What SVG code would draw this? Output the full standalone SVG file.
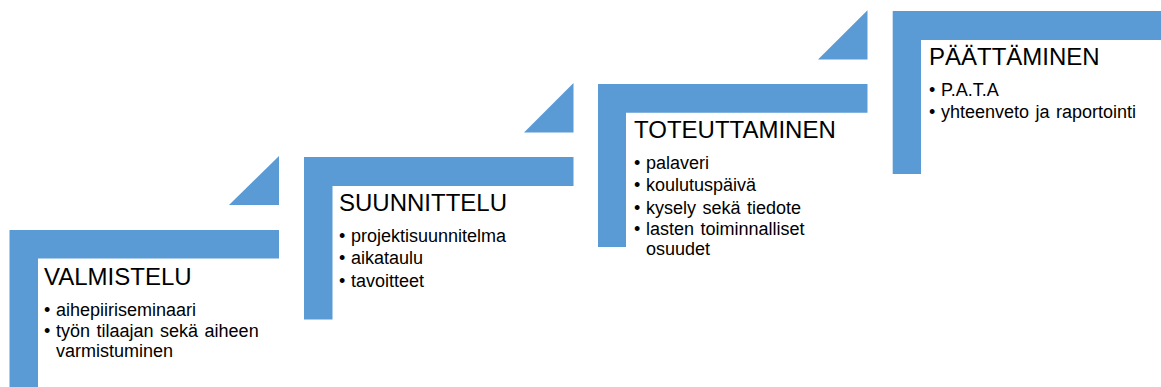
<svg xmlns="http://www.w3.org/2000/svg" width="1161" height="387" viewBox="0 0 1161 387">
<style>
.shape{fill:#5B9BD5}
.title{font-family:"Liberation Sans",Arial,sans-serif;font-size:24px;fill:#000}
.item{font-family:"Liberation Sans",Arial,sans-serif;font-size:18px;fill:#000}
</style>
<rect width="1161" height="387" fill="#fff"/>
<g id="connectors"></g>
<g id="step1">
<polygon class="shape" points="229,205 279,156 279,205"/>
<path class="shape" d="M9.5,230 H279 V258.5 H38 V393 H9.5 Z"/>
<text class="title" x="44" y="284.5">VALMISTELU</text>
<text class="item" x="44" y="315.5">•</text><text class="item" x="56" y="315.5">aihepiiriseminaari</text>
<text class="item" x="44" y="337">•</text><text class="item" x="56" y="337" word-spacing="1.5">työn tilaajan sekä aiheen</text>
<text class="item" x="56" y="357.4">varmistuminen</text>
</g>
<g id="step2">
<polygon class="shape" points="524,132.5 573.5,83 573.5,132.5"/>
<path class="shape" d="M304,157 H573.5 V186 H332.5 V319.5 H304 Z"/>
<text class="title" x="339" y="211">SUUNNITTELU</text>
<text class="item" x="339" y="241.7">•</text><text class="item" x="351" y="241.7">projektisuunnitelma</text>
<text class="item" x="339" y="264.3">•</text><text class="item" x="351" y="264.3">aikataulu</text>
<text class="item" x="339" y="286.9">•</text><text class="item" x="351" y="286.9">tavoitteet</text>
</g>
<g id="step3">
<polygon class="shape" points="818,59.5 867.5,10.3 867.5,59.5"/>
<path class="shape" d="M598,84 H867.5 V112.7 H626 V247 H598 Z"/>
<text class="title" x="634" y="138.3">TOTEUTTAMINEN</text>
<text class="item" x="634" y="168.5">•</text><text class="item" x="646" y="168.5">palaveri</text>
<text class="item" x="634" y="191">•</text><text class="item" x="646" y="191">koulutuspäivä</text>
<text class="item" x="634" y="213.5">•</text><text class="item" x="646" y="213.5" word-spacing="1.5">kysely sekä tiedote</text>
<text class="item" x="634" y="235">•</text><text class="item" x="646" y="235" word-spacing="1.5">lasten toiminnalliset</text>
<text class="item" x="646" y="255.4">osuudet</text>
</g>
<g id="step4">
<path class="shape" d="M892.7,11 H1161 V40 H921 V174 H892.7 Z"/>
<text class="title" x="929" y="64.5">PÄÄTTÄMINEN</text>
<text class="item" x="929" y="95.7">•</text><text class="item" x="941" y="95.7">P.A.T.A</text>
<text class="item" x="929" y="118.3">•</text><text class="item" x="941" y="118.3" word-spacing="1.5">yhteenveto ja raportointi</text>
</g>
</svg>
